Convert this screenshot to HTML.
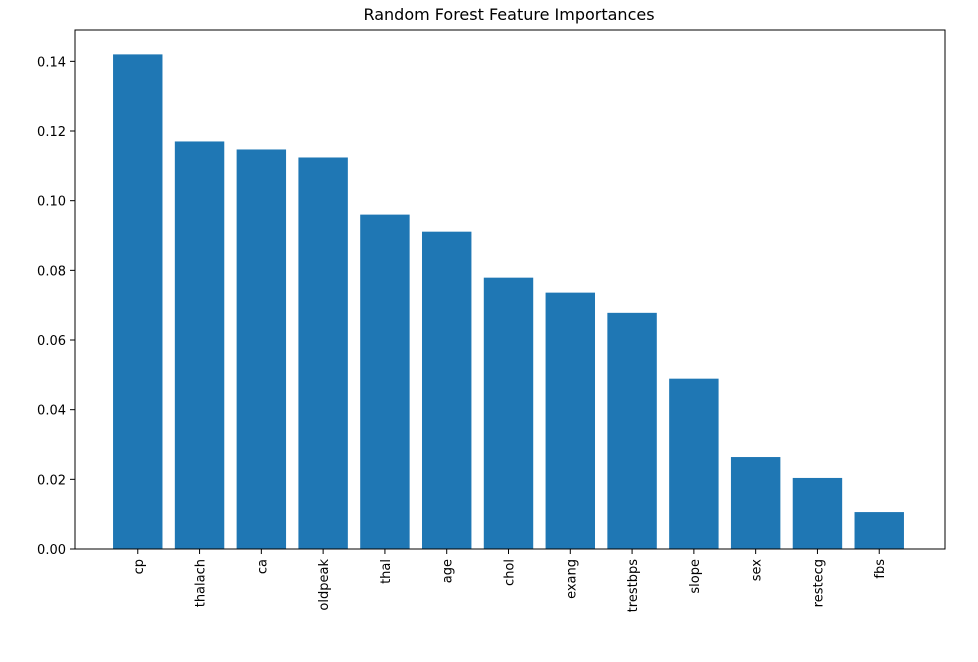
<!DOCTYPE html>
<html><head><meta charset="utf-8"><style>
body{margin:0;background:#fff;font-family:"DejaVu Sans","Liberation Sans",sans-serif;}
</style></head><body>
<svg id="chart" width="978" height="658" xmlns="http://www.w3.org/2000/svg" font-family="DejaVu Sans, Liberation Sans, sans-serif">
<text x="509" y="20" text-anchor="middle" font-size="16" fill="#000">Random Forest Feature Importances</text>
<g id="bars"></g>
<g id="axes"></g>
</svg>
<script>
const categories = ["cp","thalach","ca","oldpeak","thal","age","chol","exang","trestbps","slope","sex","restecg","fbs"];
const importances = [0.142,0.117,0.1147,0.1124,0.096,0.0911,0.0779,0.0736,0.0678,0.0489,0.0264,0.0204,0.0106];
const yTicks = [0,0.02,0.04,0.06,0.08,0.10,0.12,0.14];
const yTickLabels = ["0.00","0.02","0.04","0.06","0.08","0.10","0.12","0.14"];

const L=75,R=945,T=30,B=549;
const xMin=-1.04,xMax=categories.length-1+1.04;
const yMax=0.149;
const xs=i=>L-1.5+(i-xMin)/(xMax-xMin)*(R-L);
const ys=v=>B-v/yMax*(B-T);
const NS="http://www.w3.org/2000/svg";
const bw=0.8*(R-L)/(xMax-xMin);
const bars=document.getElementById('bars'), axes=document.getElementById('axes');
function mk(tag,attrs,parent){const e=document.createElementNS(NS,tag);for(const k in attrs)e.setAttribute(k,attrs[k]);parent.appendChild(e);return e;}
categories.forEach((c,i)=>{
  const r=mk('rect',{x:xs(i)-bw/2,y:ys(importances[i]),width:bw,height:B-ys(importances[i]),fill:'#1f77b4'},bars);
  
  
  mk('line',{x1:xs(i),x2:xs(i),y1:B,y2:B+5,stroke:'#000','stroke-width':1},axes);
  const t=mk('text',{x:0,y:0,transform:`translate(${xs(i)+5},${B+10}) rotate(-90)`,'text-anchor':'end','font-size':13,fill:'#000'},axes);
  t.textContent=c;
  
  
});
yTicks.forEach((v,i)=>{
  mk('line',{x1:L-5,x2:L,y1:ys(v),y2:ys(v),stroke:'#000','stroke-width':1},axes);
  const t=mk('text',{x:L-9,y:ys(v)+5,'text-anchor':'end','font-size':13,fill:'#000'},axes);
  t.textContent=yTickLabels[i];
  
  
});
const f=mk('rect',{x:L,y:T,width:R-L,height:B-T,fill:'none',stroke:'#000','stroke-width':1},axes);


</script>
</body></html>
